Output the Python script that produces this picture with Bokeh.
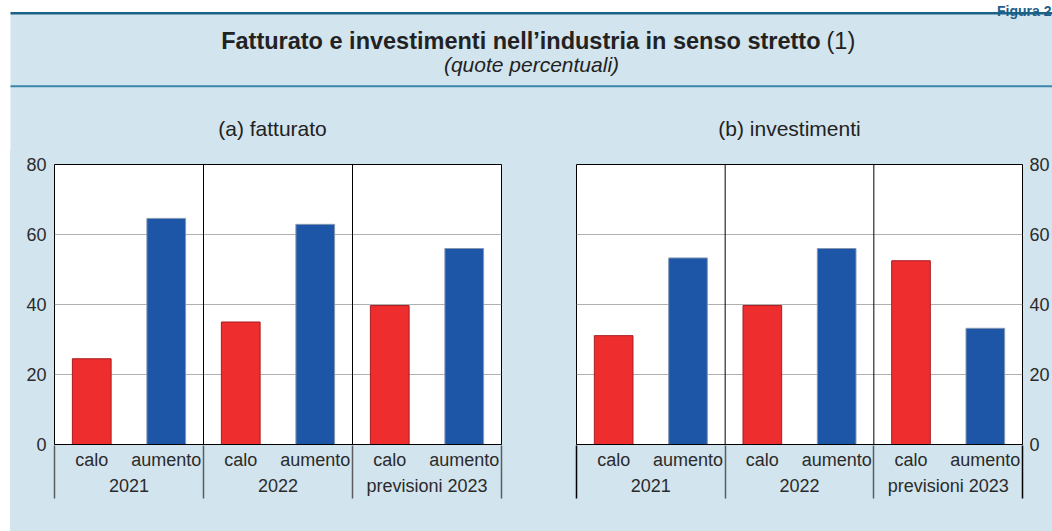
from bokeh.plotting import figure
from bokeh.models import ColumnDataSource, Range1d, LinearAxis, FixedTicker, Span, Spacer
from bokeh.layouts import column, row
from bokeh.core.properties import value
from bokeh.embed import file_html
from bokeh.resources import INLINE

# ---------------- data ----------------
categories = ["calo", "aumento"]
periods = ["2021", "2022", "previsioni 2023"]
fatturato_calo = [24.5, 35.0, 39.7]
fatturato_aumento = [64.6, 62.9, 56.0]
investimenti_calo = [31.1, 39.7, 52.5]
investimenti_aumento = [53.3, 56.0, 33.2]
y_ticks = [0, 20, 40, 60, 80]

title_text = "Fatturato e investimenti nell\u2019industria in senso stretto"
title_note = "(1)"
subtitle_text = "(quote percentuali)"
panel_titles = ["(a) fatturato", "(b) investimenti"]
figure_tag = "Figura 2"

# ---------------- style ----------------
PANEL = "#d2e4ee"
RED, RED_EDGE = "#ee2d2e", "#a81d22"
BLUE, BLUE_EDGE = "#1d56a6", "#8797b3"
FONT = "Liberation Sans"
TXT = "#2b2b2b"
TICK_SIZE = "18px"


def style_labels(ax, standoff):
    ax.major_label_standoff = standoff
    ax.major_label_text_font = FONT
    ax.major_label_text_font_size = TICK_SIZE
    ax.major_label_text_color = TXT


def no_ticks(ax):
    ax.major_tick_line_color = None
    ax.minor_tick_line_color = None
    ax.major_tick_out = 0
    ax.major_tick_in = 0
    ax.minor_tick_out = 0
    ax.minor_tick_in = 0


def separator_axis(locs, color):
    ax = LinearAxis(ticker=FixedTicker(ticks=[], minor_ticks=locs))
    no_ticks(ax)
    ax.axis_line_color = None
    ax.minor_tick_in = 53
    ax.minor_tick_line_color = color
    ax.minor_tick_line_width = 1.5
    ax.major_label_text_font_size = "0px"
    ax.major_label_standoff = 0
    return ax


def make_chart(calo, aumento, side, width, bl, br, end_color):
    p = figure(width=width, height=381,
               x_range=Range1d(0, 2 * len(periods)), y_range=Range1d(0, 80),
               x_axis_type=None, y_axis_location=side,
               output_backend="svg", toolbar_location=None,
               min_border_left=bl, min_border_right=br,
               min_border_top=14, min_border_bottom=87)
    p.border_fill_color = PANEL
    p.background_fill_color = "white"
    p.outline_line_color = "black"
    p.outline_line_width = 1

    xs, tops, fills, edges = [], [], [], []
    for i in range(len(periods)):
        for j, vals in enumerate((calo, aumento)):
            xs.append(2 * i + j + 0.5)
            tops.append(vals[i])
            fills.append(RED if j == 0 else BLUE)
            edges.append(RED_EDGE if j == 0 else BLUE_EDGE)
    src = ColumnDataSource(dict(x=xs, top=tops, fill=fills, edge=edges))
    p.vbar(x="x", top="top", bottom=0, width=0.52, source=src,
           fill_color="fill", line_color="edge", line_width=1)

    for b in range(1, len(periods)):
        p.add_layout(Span(location=2 * b, dimension="height",
                          line_color="black", line_width=1))

    ya = p.yaxis[0]
    ya.ticker = FixedTicker(ticks=y_ticks)
    no_ticks(ya)
    ya.axis_line_color = None
    style_labels(ya, 8 if side == "left" else 7)
    p.ygrid.grid_line_color = "#b0b0b0"
    p.ygrid.grid_line_width = 1.2

    # level 1: calo / aumento
    ax1 = LinearAxis(
        ticker=FixedTicker(ticks=xs, minor_ticks=[]),
        major_label_overrides={x: categories[k % 2] for k, x in enumerate(xs)})
    no_ticks(ax1)
    ax1.axis_line_color = "black"
    ax1.axis_line_width = 1
    style_labels(ax1, 5)

    # level 2: years
    centers = [2 * i + 1 for i in range(len(periods))]
    ax2 = LinearAxis(
        ticker=FixedTicker(ticks=centers, minor_ticks=[]),
        major_label_overrides={c: periods[i] for i, c in enumerate(centers)})
    no_ticks(ax2)
    ax2.axis_line_color = None
    style_labels(ax2, 3)

    # group separators, drawn upward from below the labels
    n = len(periods)
    inner = separator_axis([2 * b for b in range(1, n)], "#5c5c5c")
    ends = separator_axis([0, 2 * n], end_color)

    p.add_layout(ax1, "below")
    p.add_layout(ax2, "below")
    p.add_layout(inner, "below")
    p.add_layout(ends, "below")
    return p


left = make_chart(fatturato_calo, fatturato_aumento, "left", 516, 44, 25, "#5c5c5c")
right = make_chart(investimenti_calo, investimenti_aumento, "right", 526, 50, 28, "black")

# ---------------- header ----------------
h = figure(width=1052, height=150, x_range=Range1d(0, 1052), y_range=Range1d(150, 0),
           x_axis_type=None, y_axis_type=None, output_backend="svg",
           toolbar_location=None, min_border=0)
h.outline_line_color = None
h.background_fill_color = "white"
h.border_fill_color = "white"
h.quad(left=10, right=1052, top=12, bottom=152, fill_color=PANEL, line_color=None)
h.segment(x0=10, y0=12.8, x1=1052, y1=12.8, line_color="#1b6386", line_width=2.5)
h.segment(x0=10, y0=85.8, x1=1052, y1=85.8, line_color="#3a86aa", line_width=2)
h.text(x=[1051], y=[10.5], text=[figure_tag], text_align="right", text_baseline="alphabetic",
       text_font=value(FONT), text_font_style="bold", text_font_size="14px",
       text_color="#1b5f8a")
h.text(x=[820], y=[40], text=[title_text], text_align="right", text_baseline="middle",
       text_font=value(FONT), text_font_style="bold", text_font_size="23.5px",
       text_color="#222222")
h.text(x=[826], y=[40], text=[title_note], text_align="left", text_baseline="middle",
       text_font=value(FONT), text_font_size="23.5px", text_color="#222222")
h.text(x=[531], y=[64], text=[subtitle_text], text_align="center", text_baseline="middle",
       text_font=value(FONT), text_font_style="italic", text_font_size="21px",
       text_color="#222222")
h.text(x=[272, 789], y=[128, 128], text=panel_titles, text_align="center",
       text_baseline="middle", text_font=value(FONT), text_font_size="21px",
       text_color="#222222")

gap = Spacer(width=10, height=381, styles={"background-color": "white"})
charts = row(gap, left, right, spacing=0, styles={"background-color": PANEL})
layout = column(h, charts, spacing=0)

with open("out.html", "w") as f:
    f.write(file_html(layout, INLINE))
